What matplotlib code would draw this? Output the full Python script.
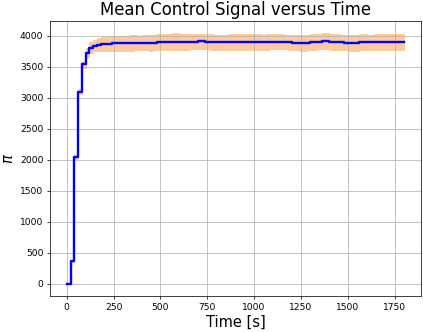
import numpy as np
import matplotlib
matplotlib.use("Agg")
import matplotlib.pyplot as plt

# time grid [s], one sample every 20 s
time = np.arange(0, 1801, 20)

mean_pi = [0, 360, 2050, 3100, 3540, 3730, 3810, 3845, 3860, 3868,
           3872, 3876, 3880, 3882, 3884, 3885, 3884, 3886, 3888, 3887,
           3890, 3892, 3890, 3893, 3896, 3898, 3900, 3904, 3908, 3906,
           3903, 3904, 3907, 3909, 3910, 3912, 3911, 3908, 3902, 3898,
           3896, 3895, 3897, 3899, 3901, 3902, 3903, 3904, 3903, 3905,
           3906, 3904, 3900, 3902, 3905, 3906, 3907, 3905, 3903, 3898,
           3893, 3889, 3886, 3887, 3892, 3899, 3905, 3910, 3913, 3912,
           3909, 3906, 3903, 3898, 3893, 3888, 3886, 3892, 3897, 3898,
           3896, 3897, 3899, 3898, 3897, 3896, 3897, 3898, 3897, 3898,
           3898]

std_pi = [0, 15, 30, 40, 55, 70, 85, 95, 105, 110,
          113, 116, 117, 119, 120, 121, 120, 122, 121, 120,
          122, 124, 125, 126, 128, 129, 131, 135, 138, 134,
          130, 127, 126, 124, 124, 122, 123, 125, 124, 124,
          123, 124, 126, 127, 128, 126, 124, 124, 123, 124,
          126, 124, 122, 123, 121, 122, 123, 121, 119, 120,
          121, 123, 124, 126, 126, 127, 126, 128, 131, 130,
          129, 127, 126, 124, 125, 126, 128, 128, 129, 127,
          127, 126, 128, 128, 129, 128, 129, 130, 129, 130,
          129]

mean_pi = np.array(mean_pi)
std_pi = np.array(std_pi)

fig = plt.figure(figsize=(423 / 66, 332 / 66), dpi=66)
ax = fig.add_axes([0.118, 0.108, 0.877, 0.83])

ax.fill_between(time, mean_pi - std_pi, mean_pi + std_pi, step="post",
                facecolor="C1", edgecolor="C1", linewidth=0.7, alpha=0.4)
ax.plot(time, mean_pi, color="b", lw=2.6, drawstyle="steps-post")

ax.set_title("Mean Control Signal versus Time", fontsize=18)
ax.set_xlabel("Time [s]", fontsize=16)
ax.set_ylabel(r"$\pi$", fontsize=16)
ax.set_xticks([0, 250, 500, 750, 1000, 1250, 1500, 1750])
ax.set_yticks(range(0, 4001, 500))
ax.grid(True)

fig.savefig("out.png", dpi=66)
